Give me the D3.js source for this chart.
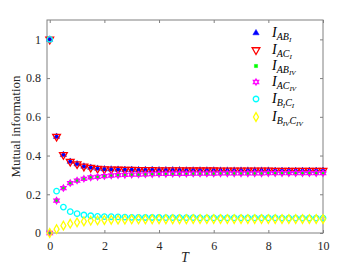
<!DOCTYPE html>
<html>
<head>
<meta charset="utf-8">
<script src="https://cdn.jsdelivr.net/npm/d3@7"></script>
<style>
  body { margin: 0; background: #fff; }
  svg text { font-family: "Times New Roman", "Liberation Serif", "DejaVu Serif", serif !important; }
</style>
</head>
<body>
<script>
const width = 357, height = 268;
const margin = { top: 20, right: 34, bottom: 35, left: 47 };

// time points T = 0, 0.25, ..., 10
const T = d3.range(0, 10.001, 0.25);

// series values
const IAB_I = [1, 0.498, 0.404, 0.369, 0.356, 0.344, 0.338, 0.333, 0.330, 0.329, 0.328, 0.327, 0.327, 0.326, 0.326,
  0.326, 0.325, 0.325, 0.325, 0.325, 0.324, 0.324, 0.324, 0.324, 0.324, 0.323, 0.323, 0.323, 0.323, 0.323,
  0.323, 0.323, 0.323, 0.322, 0.322, 0.322, 0.322, 0.322, 0.322, 0.322, 0.322];
const IAC_I = IAB_I.slice();
const IAB_IV = [0, 0.167, 0.232, 0.258, 0.271, 0.280, 0.287, 0.290, 0.294, 0.297, 0.299, 0.300, 0.301, 0.302, 0.303,
  0.304, 0.305, 0.305, 0.306, 0.306, 0.306, 0.307, 0.307, 0.307, 0.307, 0.308, 0.308, 0.308, 0.308, 0.308,
  0.308, 0.308, 0.309, 0.309, 0.309, 0.309, 0.309, 0.309, 0.309, 0.309, 0.309];
const IAC_IV = IAB_IV.slice();
const IBC_I = [1, 0.216, 0.134, 0.110, 0.100, 0.093, 0.089, 0.086, 0.085, 0.084, 0.083, 0.082, 0.081, 0.081, 0.080,
  0.080, 0.080, 0.079, 0.079, 0.079, 0.079, 0.079, 0.078, 0.078, 0.078, 0.078, 0.078, 0.078, 0.078, 0.078,
  0.078, 0.078, 0.078, 0.078, 0.077, 0.077, 0.077, 0.077, 0.077, 0.077, 0.077];
const IBC_IV = [0, 0.020, 0.038, 0.048, 0.055, 0.060, 0.064, 0.065, 0.067, 0.068, 0.069, 0.069, 0.070, 0.070, 0.070,
  0.071, 0.071, 0.071, 0.071, 0.071, 0.071, 0.072, 0.072, 0.072, 0.072, 0.072, 0.072, 0.072, 0.072, 0.072,
  0.072, 0.072, 0.072, 0.072, 0.072, 0.072, 0.072, 0.072, 0.072, 0.072, 0.072];

const xTicks = [0, 2, 4, 6, 8, 10];
const yTicks = [0, 0.2, 0.4, 0.6, 0.8, 1];

const series = [
  { name: ["I", "AB", "I", ""], values: IAB_I, sym: d3.symbolTriangle, fill: "#0000ff", stroke: "#0000ff", rot: 0, size: 17 },
  { name: ["I", "AC", "I", ""], values: IAC_I, sym: d3.symbolTriangle, fill: "none", stroke: "#ff0000", rot: 180, size: 26 },
  { name: ["I", "AB", "IV", ""], values: IAB_IV, sym: d3.symbolSquare, fill: "#00ff00", stroke: "#00ff00", rot: 0, size: 10 },
  { name: ["I", "AC", "IV", ""], values: IAC_IV, sym: "hex", fill: "none", stroke: "#ff00ff", rot: 0, size: 3 },
  { name: ["I", "B", "I", "C", "I"], values: IBC_I, sym: d3.symbolCircle, fill: "none", stroke: "#00ffff", rot: 0, size: 24 },
  { name: ["I", "B", "IV", "C", "IV"], values: IBC_IV, sym: d3.symbolDiamond, fill: "none", stroke: "#ffff00", rot: 0, size: 22 }
];

const svg = d3.select("body").append("svg")
  .attr("width", width)
  .attr("height", height);

const x = d3.scaleLinear().domain([-0.1, 10]).range([margin.left, width - margin.right]);
const y = d3.scaleLinear().domain([0, 1.1]).range([height - margin.bottom, margin.top]);

// hexagram path
function hexagram(r) {
  const pts = [];
  for (let i = 0; i < 12; i++) {
    const a = Math.PI / 6 * i - Math.PI / 2;
    const rr = i % 2 === 0 ? r : r * 0.58;
    pts.push([rr * Math.cos(a), rr * Math.sin(a)]);
  }
  return "M" + pts.map(p => p.join(",")).join("L") + "Z";
}
function markerPath(s) {
  if (s.sym === "hex") return hexagram(s.size);
  return d3.symbol().type(s.sym).size(s.size)();
}

// axes box
const axisColor = "#808080";
svg.append("rect")
  .attr("x", margin.left).attr("y", margin.top)
  .attr("width", width - margin.right - margin.left)
  .attr("height", height - margin.bottom - margin.top)
  .attr("fill", "none").attr("stroke", axisColor).attr("stroke-width", 1);

const gx = svg.append("g").attr("transform", `translate(0,${height - margin.bottom})`)
  .call(d3.axisBottom(x).tickValues(xTicks).tickSizeInner(-3).tickSizeOuter(0).tickPadding(8));
const gxTop = svg.append("g").attr("transform", `translate(0,${margin.top})`)
  .call(d3.axisTop(x).tickValues(xTicks).tickSizeInner(-3).tickSizeOuter(0).tickFormat(""));
const gy = svg.append("g").attr("transform", `translate(${margin.left},0)`)
  .call(d3.axisLeft(y).tickValues(yTicks).tickSizeInner(-3).tickSizeOuter(0).tickPadding(6).tickFormat(d3.format("~g")));
const gyRight = svg.append("g").attr("transform", `translate(${width - margin.right},0)`)
  .call(d3.axisRight(y).tickValues(yTicks).tickSizeInner(-3).tickSizeOuter(0).tickFormat(""));

[gx, gxTop, gy, gyRight].forEach(g => {
  g.attr("font-family", null);
  g.select(".domain").remove();
  g.selectAll("line").attr("stroke", axisColor);
  g.selectAll("text").attr("fill", "#262626").style("font-size", "12px");
});

// axis titles
svg.append("text")
  .attr("x", (margin.left + width - margin.right) / 2)
  .attr("y", 262)
  .attr("text-anchor", "middle")
  .style("font-size", "14px").style("font-style", "italic")
  .attr("fill", "#262626")
  .text("T");

svg.append("text")
  .attr("transform", `translate(20,${(margin.top + height - margin.bottom) / 2}) rotate(-90)`)
  .attr("text-anchor", "middle")
  .style("font-size", "13px")
  .attr("fill", "#262626")
  .text("Mutual information");

// markers
series.forEach(s => {
  svg.append("g").selectAll("path")
    .data(s.values)
    .join("path")
    .attr("d", markerPath(s))
    .attr("transform", (d, i) => `translate(${x(T[i])},${y(d)}) rotate(${s.rot})`)
    .attr("fill", s.fill)
    .attr("stroke", s.stroke)
    .attr("stroke-width", s.fill === "none" ? 1.3 : 0.5);
});

// legend
const legend = svg.append("g");
const legY = [33, 50, 66, 82, 99, 117];
series.forEach((s, i) => {
  legend.append("path")
    .attr("d", markerPath(s))
    .attr("transform", `translate(256,${legY[i]}) rotate(${s.rot})`)
    .attr("fill", s.fill).attr("stroke", s.stroke)
    .attr("stroke-width", s.fill === "none" ? 1.3 : 0.5);
  const t = legend.append("text")
    .attr("x", 272).attr("y", legY[i] + 4)
    .attr("fill", "#000")
    .style("font-style", "italic").style("font-size", "14px");
  t.append("tspan").text(s.name[0]);
  t.append("tspan").attr("dy", 3).style("font-size", "10px").text(s.name[1]);
  t.append("tspan").attr("dy", 2).style("font-size", "7px").text(s.name[2]);
  if (s.name[3]) {
    t.append("tspan").attr("dy", -2).style("font-size", "10px").text(s.name[3]);
    t.append("tspan").attr("dy", 2).style("font-size", "7px").text(s.name[4]);
  }
});
</script>
</body>
</html>
